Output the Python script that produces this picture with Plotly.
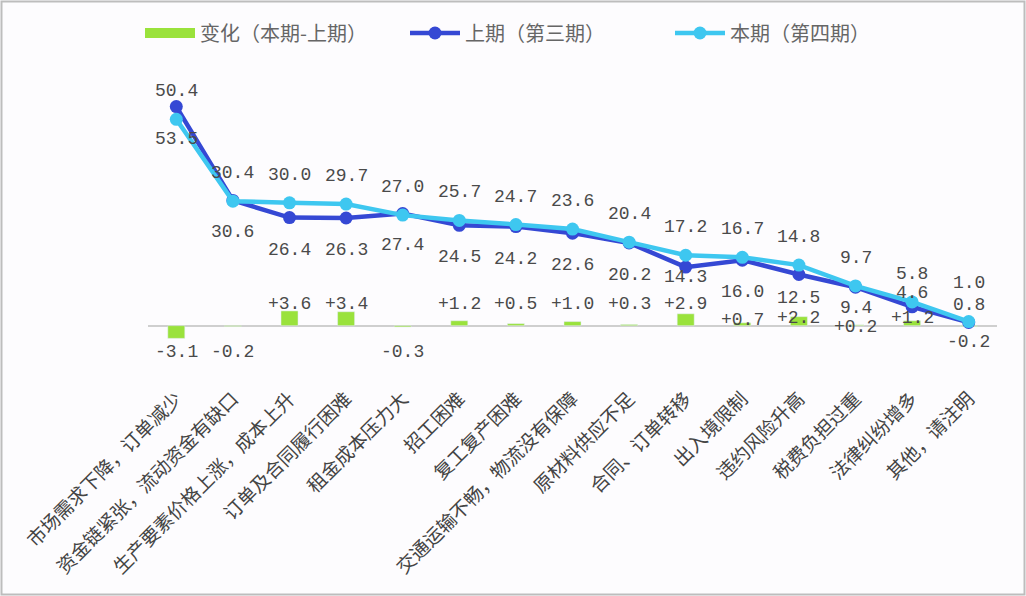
import plotly.graph_objects as go

categories = [
    "市场需求下降，订单减少",
    "资金链紧张，流动资金有缺口",
    "生产要素价格上涨，成本上升",
    "订单及合同履行困难",
    "租金成本压力大",
    "招工困难",
    "复工复产困难",
    "交通运输不畅，物流没有保障",
    "原材料供应不足",
    "合同、订单转移",
    "出入境限制",
    "违约风险升高",
    "税费负担过重",
    "法律纠纷增多",
    "其他，请注明",
]
current = [50.4, 30.4, 30.0, 29.7, 27.0, 25.7, 24.7, 23.6, 20.4, 17.2, 16.7, 14.8, 9.7, 5.8, 1.0]   # 本期（第四期）
previous = [53.5, 30.6, 26.4, 26.3, 27.4, 24.5, 24.2, 22.6, 20.2, 14.3, 16.0, 12.5, 9.4, 4.6, 0.8]  # 上期（第三期）
change = [-3.1, -0.2, 3.6, 3.4, -0.3, 1.2, 0.5, 1.0, 0.3, 2.9, 0.7, 2.2, 0.2, 1.2, -0.2]

GREEN = "#9ae23c"
DARK = "#3548d4"
LIGHT = "#3ec7f0"
TXT = "#4a4a4a"
NUM_FONT = dict(family="Liberation Mono, Noto Sans CJK SC", size=18, color=TXT)

# label nudges (pixels) where the original chart moved labels by hand
cur_shift = {14: 39}
prev_shift = {9: -10, 11: -24, 12: -21, 13: 14, 14: 17}
chg_shift = {10: 6, 11: 8, 12: -1, 13: 8, 14: -16}

# plot area in pixels
W, H = 1026, 596
ml, mr, mt, mb = 148, 29, 80, 213
pw, ph = W - ml - mr, H - mt - mb

fig = go.Figure()

fig.add_trace(go.Bar(
    x=categories, y=change, name="变化（本期-上期）",
    marker=dict(color=GREEN), width=0.3, showlegend=False,
))
fig.add_trace(go.Scatter(
    x=categories, y=previous, name="上期（第三期）", mode="lines+markers",
    line=dict(color=DARK, width=4.5), marker=dict(size=13, color=DARK),
    legendrank=2,
))
fig.add_trace(go.Scatter(
    x=categories, y=current, name="本期（第四期）", mode="lines+markers",
    line=dict(color=LIGHT, width=4.5), marker=dict(size=13, color=LIGHT),
    legendrank=3,
))
# legend-only swatch for the bars (wide green bar)
fig.add_trace(go.Scatter(
    x=[None], y=[None], name="变化（本期-上期）", mode="lines",
    line=dict(color=GREEN, width=10), legendrank=1,
))

annotations = []
for i, (c, v) in enumerate(zip(categories, current)):
    annotations.append(dict(x=c, y=v, text=f"{v:.1f}", showarrow=False,
                            yshift=cur_shift.get(i, 28), font=NUM_FONT))
for i, (c, v) in enumerate(zip(categories, previous)):
    annotations.append(dict(x=c, y=v, text=f"{v:.1f}", showarrow=False,
                            yshift=prev_shift.get(i, -32), font=NUM_FONT))
for i, (c, v) in enumerate(zip(categories, change)):
    annotations.append(dict(x=c, y=0, text=f"{v:+.1f}", showarrow=False,
                            yshift=chg_shift.get(i, 22 if v > 0 else -26),
                            font=NUM_FONT))

fig.update_layout(
    width=W, height=H,
    margin=dict(l=ml, r=mr, t=mt, b=mb),
    paper_bgcolor="#fdfcfe", plot_bgcolor="#fdfcfe",
    font=dict(family="Noto Sans CJK SC", color=TXT),
    legend=dict(orientation="h", x=(140 - ml) / pw, xanchor="left",
                y=1 + (mt - 33) / ph, yanchor="middle",
                font=dict(size=20, color="#666666"), itemwidth=50,
                entrywidth=200, entrywidthmode="pixels",
                bgcolor="rgba(0,0,0,0)"),
    xaxis=dict(tickangle=-45, tickfont=dict(size=19, color="#444444"),
               range=[-0.5, len(categories) - 0.5],
               showgrid=False, showline=False, ticks="", automargin=False),
    yaxis=dict(range=[-14, 60], showgrid=False, showticklabels=False,
               zeroline=True, zerolinecolor="#cfcfcf", zerolinewidth=1.5,
               showline=False, automargin=False),
    annotations=annotations,
    shapes=[dict(type="rect", xref="paper", yref="paper",
                 x0=(1.5 - ml) / pw, x1=(W - 1.5 - ml) / pw,
                 y0=-(H - 1.5 - mt - ph) / ph, y1=1 + (mt - 1.5) / ph,
                 line=dict(color="#bdbdbd", width=2), layer="below")],
)

fig.write_html("out.html", config={"displayModeBar": False},
               post_script="document.body.style.margin='0';")
